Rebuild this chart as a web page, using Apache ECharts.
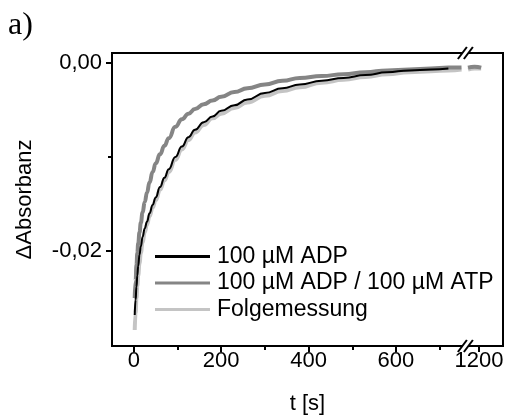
<!DOCTYPE html>
<html><head><meta charset="utf-8">
<script src="https://cdn.jsdelivr.net/npm/echarts@6/dist/echarts.min.js"></script>
<style>html,body{margin:0;padding:0;background:#fff}#c{width:508px;height:420px}</style>
</head><body><div id="c"></div>
<script>
// ---- data ----
const times     = [2, 4, 6, 8, 10, 13, 16, 20, 25, 30, 36, 43, 50, 60, 70, 80, 95, 110, 125, 140, 160, 180, 200, 230, 260, 300, 340, 380, 430, 480, 530, 580, 630, 680, 720, 750];
const adp       = [-0.0268, -0.0252, -0.0238, -0.0226, -0.0216, -0.0204, -0.0195, -0.0185, -0.0176, -0.0169, -0.0160, -0.0151, -0.0143, -0.0132, -0.0122, -0.0113, -0.0100, -0.0089, -0.0079, -0.0071, -0.0063, -0.0057, -0.0051, -0.0045, -0.0039, -0.0032, -0.0027, -0.0023, -0.0019, -0.0016, -0.0013, -0.0010, -0.0008, -0.0007, -0.0006, null];
const adpAtp    = [-0.0250, -0.0232, -0.0215, -0.0202, -0.0192, -0.0180, -0.0170, -0.0159, -0.0148, -0.0138, -0.0127, -0.0116, -0.0107, -0.0097, -0.0088, -0.0080, -0.0068, -0.0060, -0.0054, -0.0049, -0.0044, -0.0040, -0.0036, -0.0031, -0.0027, -0.0023, -0.0019, -0.0016, -0.0014, -0.0012, -0.0010, -0.0008, -0.0007, -0.0006, -0.0005, -0.0005];
const folge     = [-0.0284, -0.0266, -0.0250, -0.0237, -0.0226, -0.0213, -0.0202, -0.0191, -0.0180, -0.0172, -0.0163, -0.0154, -0.0146, -0.0135, -0.0125, -0.0116, -0.0103, -0.0092, -0.0082, -0.0074, -0.0066, -0.0059, -0.0054, -0.0048, -0.0042, -0.0035, -0.0030, -0.0026, -0.0021, -0.0018, -0.0015, -0.0012, -0.0010, -0.0009, -0.0008, -0.0007];
const timesAfter  = [1175, 1190, 1205];
const adpAtpAfter = [-0.0005, -0.0004, -0.0005];
const folgeAfter  = [-0.0007, -0.0006, -0.0006];
const seriesNames = ['100 µM ADP', '100 µM ADP / 100 µM ATP', 'Folgemessung'];
const xMajorTicks = [0, 200, 400, 600, 1200];
const xMinorTicks = [100, 300, 500, 700];
const yMajorTicks = [0, -0.02];
const yMinorTicks = [-0.01];
const xBreak = { start: 760, end: 1170 };

// ---- helpers ----
function build(ts, vs, ts2, vs2) {
  const d = ts.map((t, i) => [t, vs[i] === null ? '-' : vs[i]]);
  if (ts2) {
    d.push([765, '-']);
    ts2.forEach((t, i) => d.push([t, vs2[i]]));
  }
  return d;
}
const FONT = 'Liberation Sans, Arial, sans-serif';
const FS = 22;
const fmtY = v => v.toFixed(2).replace('.', ',').replace('-0,00', '0,00');

const chart = echarts.init(document.getElementById('c'), null, { renderer: 'canvas' });
const XMIN = -50, XMAX = 1255, YMIN = -0.0301, YMAX = 0.00105;
const xBase = {
  type: 'value', min: XMIN, max: XMAX, gridIndex: 0,
  breaks: [{ start: xBreak.start, end: xBreak.end, gap: 0 }],
  breakArea: { show: false, expandOnClick: false },
  splitLine: { show: false }
};
const yBase = { type: 'value', min: YMIN, max: YMAX, splitLine: { show: false } };

const option = {
  animation: false,
  backgroundColor: '#fff',
  textStyle: { fontFamily: FONT },
  grid: { left: 112, right: 5, top: 53, bottom: 71, show: true, borderColor: '#000', borderWidth: 2, containLabel: false },
  xAxis: [
    Object.assign({}, xBase, {
      position: 'bottom',
      name: 't [s]', nameLocation: 'middle', nameGap: 47,
      nameTextStyle: { fontFamily: FONT, fontSize: FS, color: '#000' },
      axisLine: { show: true, onZero: false, lineStyle: { color: '#000', width: 2 } },
      axisTick: { show: true, inside: false, length: 6, lineStyle: { color: '#000', width: 2 }, customValues: xMajorTicks },
      axisLabel: { show: true, margin: 4, fontFamily: FONT, fontSize: FS, color: '#000', customValues: xMajorTicks, formatter: v => String(v) }
    }),
    Object.assign({}, xBase, {
      position: 'bottom',
      axisLine: { show: false, onZero: false },
      axisTick: { show: true, inside: false, length: 4, lineStyle: { color: '#000', width: 2 }, customValues: xMinorTicks },
      axisLabel: { show: false }
    })
  ],
  yAxis: [
    Object.assign({}, yBase, {
      position: 'left',
      name: 'ΔAbsorbanz', nameLocation: 'middle', nameGap: 76, nameRotate: 90,
      nameTextStyle: { fontFamily: FONT, fontSize: FS, color: '#000' },
      axisLine: { show: true, onZero: false, lineStyle: { color: '#000', width: 2 } },
      axisTick: { show: true, inside: false, length: 6, lineStyle: { color: '#000', width: 2 }, customValues: yMajorTicks },
      axisLabel: { show: true, margin: 10, fontFamily: FONT, fontSize: FS, color: '#000', customValues: yMajorTicks, formatter: fmtY }
    }),
    Object.assign({}, yBase, {
      position: 'left',
      axisLine: { show: false, onZero: false },
      axisTick: { show: true, inside: false, length: 4, lineStyle: { color: '#000', width: 2 }, customValues: yMinorTicks },
      axisLabel: { show: false }
    })
  ],
  legend: {
    orient: 'vertical', left: 150, top: 240,
    itemWidth: 55, itemHeight: 3, itemGap: 3.5, icon: 'rect',
    data: seriesNames,
    textStyle: { fontFamily: FONT, fontSize: 23, color: '#000', lineHeight: 22, padding: [0, 0, 0, 2] }
  },
  series: [
    { name: seriesNames[2], type: 'line', xAxisIndex: 0, yAxisIndex: 0, data: build(times, folge, timesAfter, folgeAfter),
      showSymbol: false, smooth: true, smoothMonotone: 'x', connectNulls: false,
      lineStyle: { color: '#c4c4c4', width: 4 }, itemStyle: { color: '#c4c4c4' }, z: 2 },
    { name: seriesNames[1], type: 'line', xAxisIndex: 0, yAxisIndex: 0, data: build(times, adpAtp, timesAfter, adpAtpAfter),
      showSymbol: false, smooth: true, smoothMonotone: 'x', connectNulls: false,
      lineStyle: { color: '#858585', width: 4 }, itemStyle: { color: '#858585' }, z: 3 },
    { name: seriesNames[0], type: 'line', xAxisIndex: 0, yAxisIndex: 0, data: build(times, adp),
      showSymbol: false, smooth: true, smoothMonotone: 'x', connectNulls: false,
      lineStyle: { color: '#000', width: 2 }, itemStyle: { color: '#000' }, z: 4 }
  ]
};
chart.setOption(option);

// break marks "//" on top and bottom frame lines, plus the panel letter
const bx = chart.convertToPixel({ xAxisIndex: 0 }, xBreak.start);
const yTop = chart.convertToPixel({ yAxisIndex: 0 }, YMAX);
const yBot = chart.convertToPixel({ yAxisIndex: 0 }, YMIN);
function breakMark(y) {
  return [
    { type: 'polygon', silent: true, z: 100, shape: { points: [[bx - 8, y + 6], [bx - 2, y + 6], [bx + 7, y - 6], [bx + 1, y - 6]] }, style: { fill: '#fff' } },
    { type: 'line', silent: true, z: 101, shape: { x1: bx - 8, y1: y + 6, x2: bx + 1, y2: y - 6 }, style: { stroke: '#000', lineWidth: 2 } },
    { type: 'line', silent: true, z: 101, shape: { x1: bx - 2, y1: y + 6, x2: bx + 7, y2: y - 6 }, style: { stroke: '#000', lineWidth: 2 } }
  ];
}
chart.setOption({
  graphic: [].concat(breakMark(yTop), breakMark(yBot), [
    { type: 'text', left: 8, top: 10, z: 100, style: { text: 'a)', font: '32px "Liberation Serif", "Times New Roman", serif', fill: '#000' } }
  ])
});
</script></body></html>
